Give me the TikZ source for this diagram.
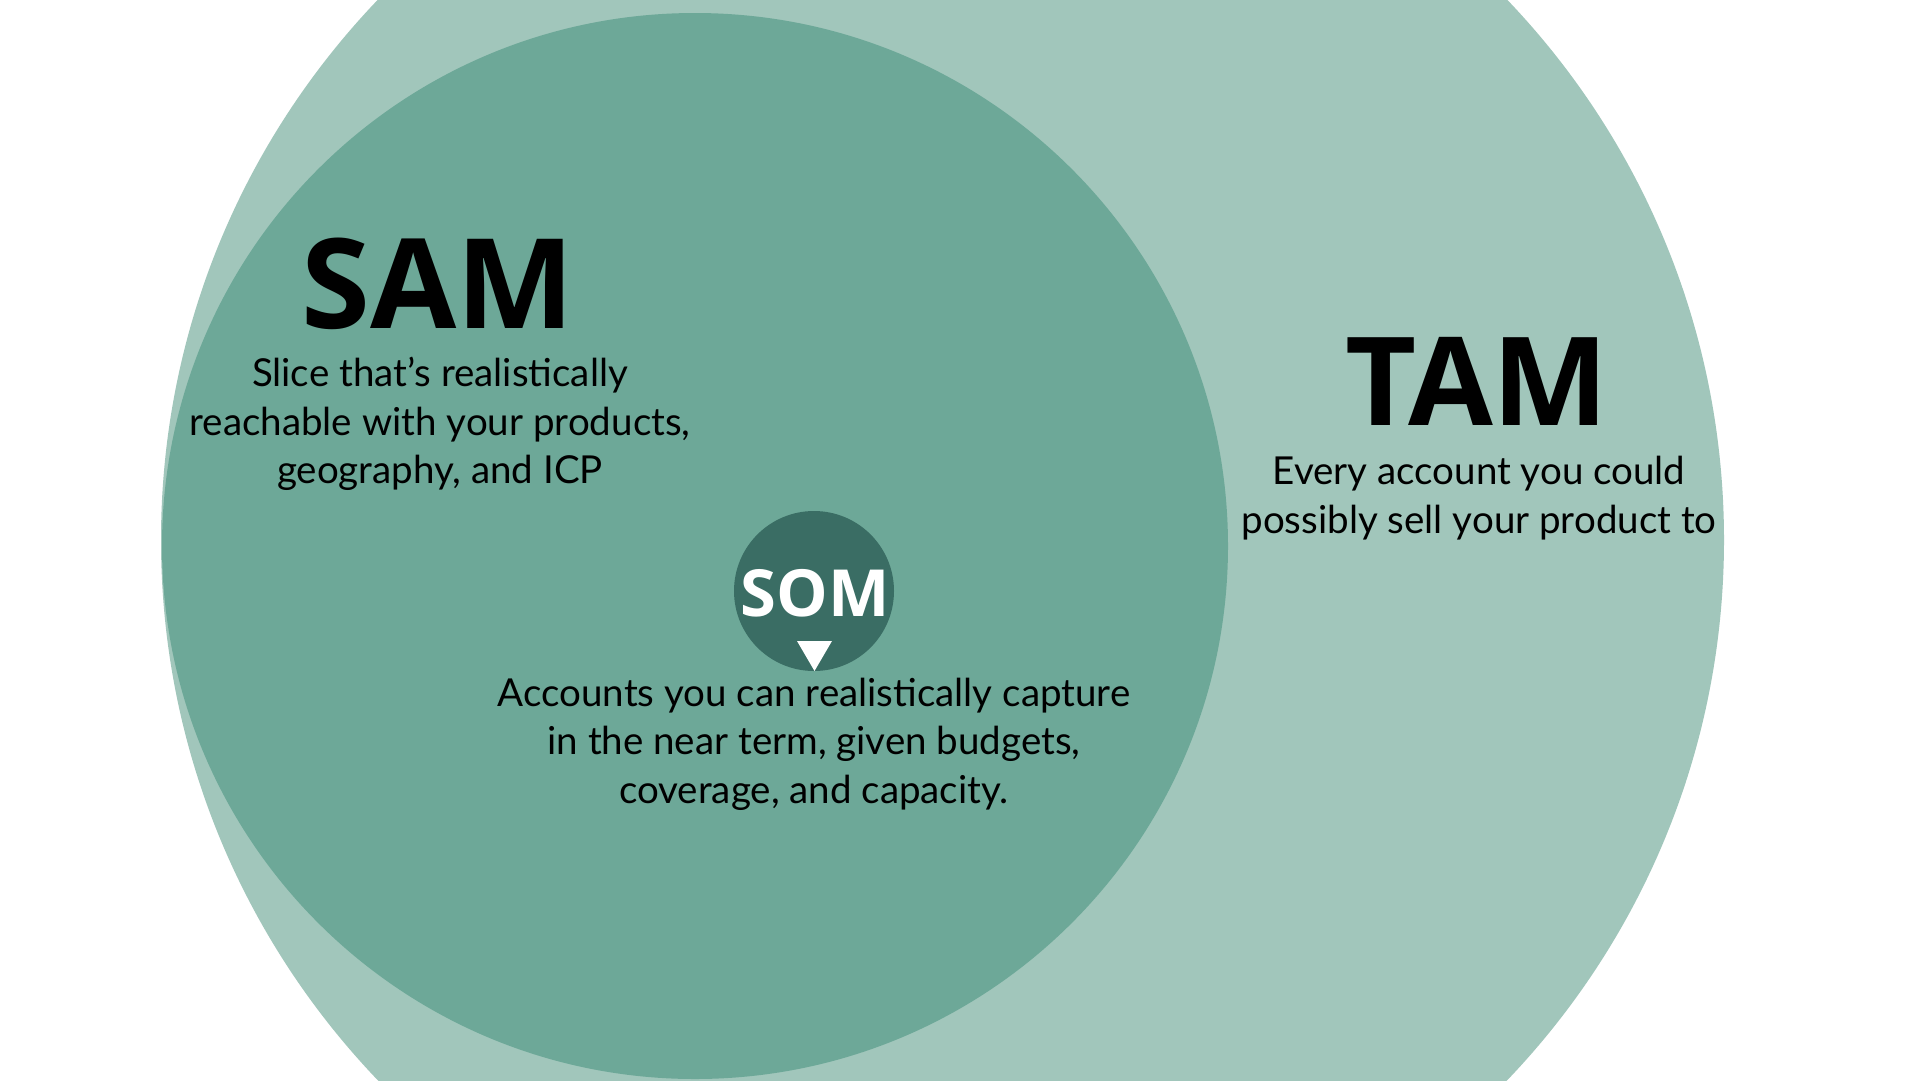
\documentclass[tikz,border=0pt]{standalone}
\usepackage{fontspec}
\setmainfont{Lato}
\newfontfamily\headfont{Open Sans}
\definecolor{tamgreen}{HTML}{A1C6BB}
\definecolor{samgreen}{HTML}{6DA898}
\definecolor{somgreen}{HTML}{3A6D64}
\begin{document}
\begin{tikzpicture}[x=1pt, y=-1pt,
  market/.style = {circle, inner sep=0pt, draw=none},
  title/.style = {anchor=base, font=\headfont\bfseries\fontsize{125}{125}\selectfont},
  blurb/.style = {align=center, inner sep=0pt,
    font=\fontsize{38.5}{48.5}\selectfont}]
  \useasboundingbox (0,0) rectangle (1920,1080);
  \clip (0,0) rectangle (1920,1080);
  \fill[white] (0,0) rectangle (1920,1080);

  \node[market, fill=tamgreen, minimum size=1563pt] (tam) at (942.5,540) {};
  \node[market, fill=samgreen, minimum size=1066pt] (sam) at (695,546) {};
  \node[market, fill=somgreen, minimum size=160pt] (som) at (814,591) {};
  \fill[white] (797,641) -- (832,641) -- (814.5,671) -- cycle;

  \node[title] (samtitle) at (438,328) {SAM};
  \node[blurb] (samtext) at (440,424) {Slice that’s realistically\\
    reachable with your products,\\ geography, and ICP};

  \node[title, font=\headfont\bfseries\fontsize{123}{123}\selectfont]
    (tamtitle) at (1477,425) {TAM};
  \node[blurb] (tamtext) at (1479,498) {Every account you could\\
    possibly sell your product to};

  \node[title, text=white, font=\headfont\bfseries\fontsize{65}{65}\selectfont]
    (somtitle) at (815,616) {SOM};
  \node[blurb] (somtext) at (814,744) {Accounts you can realistically capture\\
    in the near term, given budgets,\\ coverage, and capacity.};
\end{tikzpicture}
\end{document}
